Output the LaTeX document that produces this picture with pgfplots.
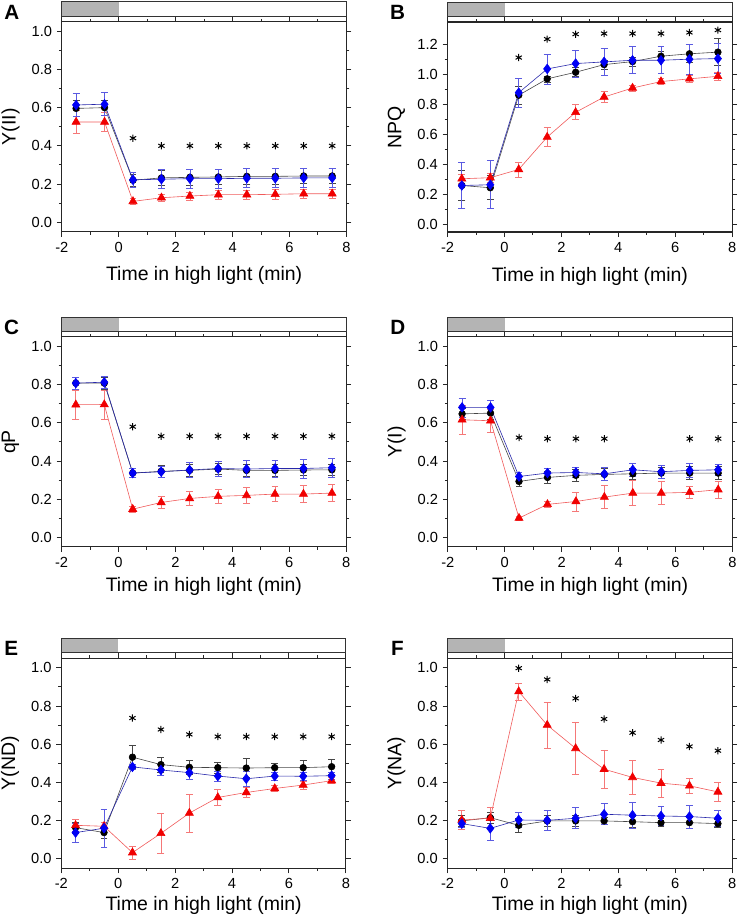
\documentclass[border=0pt]{standalone}
\usepackage{pgfplots}
\usepackage{pgfplotstable}
\pgfplotsset{compat=1.18}
\usepackage{fontspec}
\setmainfont{Liberation Sans}
\definecolor{cblue}{RGB}{0,0,245}
\definecolor{cred}{RGB}{240,0,0}
\definecolor{kline}{RGB}{70,70,70}
\definecolor{bline}{RGB}{40,40,170}
\definecolor{rline}{RGB}{240,90,90}
\definecolor{kerr}{RGB}{70,70,70}
\definecolor{berr}{RGB}{90,90,225}
\definecolor{rerr}{RGB}{245,120,120}
\definecolor{barg}{RGB}{180,180,180}

\pgfplotstableread{
x k ke b be r re
-1.5 0.596 0.04 0.614 0.06 0.525 0.06
-0.5 0.600 0.04 0.618 0.06 0.525 0.05
0.5 0.220 0.03 0.222 0.04 0.109 0.015
1.5 0.232 0.04 0.225 0.05 0.128 0.02
2.5 0.235 0.04 0.228 0.05 0.137 0.02
3.5 0.237 0.04 0.228 0.05 0.144 0.025
4.5 0.240 0.04 0.230 0.05 0.144 0.025
5.5 0.240 0.04 0.230 0.05 0.146 0.025
6.5 0.242 0.04 0.232 0.05 0.149 0.025
7.5 0.242 0.04 0.232 0.05 0.149 0.025
}\tabA
\pgfplotstableread{
x y
0.5 0.44
1.5 0.40
2.5 0.40
3.5 0.40
4.5 0.40
5.5 0.40
6.5 0.40
7.5 0.40
}\starA
\pgfplotstableread{
x k ke b be r re
-1.5 0.260 0.10 0.260 0.155 0.305 0.03
-0.5 0.245 0.08 0.265 0.160 0.312 0.03
0.5 0.862 0.06 0.879 0.095 0.367 0.05
1.5 0.971 0.02 1.037 0.10 0.583 0.065
2.5 1.015 0.03 1.073 0.09 0.748 0.05
3.5 1.066 0.03 1.084 0.09 0.850 0.035
4.5 1.086 0.03 1.095 0.09 0.910 0.02
5.5 1.122 0.03 1.095 0.09 0.953 0.02
6.5 1.138 0.06 1.102 0.10 0.971 0.025
7.5 1.149 0.09 1.106 0.10 0.988 0.025
}\tabB
\pgfplotstableread{
x y
0.5 1.113
1.5 1.236
2.5 1.269
3.5 1.273
4.5 1.273
5.5 1.273
6.5 1.280
7.5 1.296
}\starB
\pgfplotstableread{
x k ke b be r re
-1.5 0.808 0.03 0.808 0.03 0.695 0.075
-0.5 0.808 0.03 0.813 0.03 0.696 0.075
0.5 0.337 0.025 0.337 0.025 0.148 0.015
1.5 0.346 0.03 0.344 0.03 0.183 0.03
2.5 0.351 0.03 0.353 0.04 0.204 0.035
3.5 0.358 0.03 0.361 0.04 0.215 0.035
4.5 0.351 0.03 0.358 0.045 0.220 0.04
5.5 0.351 0.03 0.361 0.045 0.227 0.04
6.5 0.353 0.03 0.361 0.05 0.227 0.045
7.5 0.354 0.03 0.365 0.05 0.232 0.045
}\tabC
\pgfplotstableread{
x y
0.5 0.58
1.5 0.53
2.5 0.53
3.5 0.53
4.5 0.53
5.5 0.53
6.5 0.53
7.5 0.53
}\starC
\pgfplotstableread{
x k ke b be r re
-1.5 0.647 0.03 0.681 0.05 0.616 0.075
-0.5 0.651 0.03 0.681 0.035 0.611 0.06
0.5 0.293 0.025 0.319 0.02 0.101 0.01
1.5 0.314 0.03 0.337 0.025 0.173 0.015
2.5 0.325 0.03 0.340 0.025 0.188 0.05
3.5 0.330 0.03 0.333 0.035 0.211 0.06
4.5 0.333 0.03 0.354 0.035 0.232 0.065
5.5 0.337 0.03 0.344 0.035 0.232 0.06
6.5 0.337 0.035 0.351 0.035 0.236 0.03
7.5 0.337 0.035 0.354 0.03 0.250 0.045
}\tabD
\pgfplotstableread{
x y
0.5 0.523
1.5 0.517
2.5 0.517
3.5 0.517
6.5 0.517
7.5 0.517
}\starD
\pgfplotstableread{
x k ke b be r re
-1.5 0.163 0.03 0.137 0.05 0.175 0.03
-0.5 0.137 0.03 0.160 0.10 0.170 0.02
0.5 0.532 0.06 0.481 0.015 0.032 0.035
1.5 0.493 0.04 0.465 0.03 0.133 0.105
2.5 0.479 0.035 0.451 0.035 0.239 0.10
3.5 0.477 0.03 0.433 0.025 0.321 0.04
4.5 0.475 0.05 0.419 0.04 0.347 0.025
5.5 0.477 0.025 0.433 0.02 0.368 0.015
6.5 0.477 0.04 0.432 0.02 0.386 0.02
7.5 0.482 0.04 0.435 0.02 0.409 0.015
}\tabE
\pgfplotstableread{
x y
0.5 0.737
1.5 0.677
2.5 0.651
3.5 0.640
4.5 0.640
5.5 0.640
6.5 0.640
7.5 0.640
}\starE
\pgfplotstableread{
x k ke b be r re
-1.5 0.198 0.03 0.184 0.02 0.203 0.05
-0.5 0.215 0.03 0.159 0.065 0.212 0.055
0.5 0.175 0.035 0.203 0.04 0.876 0.045
1.5 0.198 0.03 0.201 0.05 0.700 0.12
2.5 0.198 0.03 0.212 0.055 0.578 0.135
3.5 0.198 0.02 0.233 0.055 0.469 0.10
4.5 0.194 0.03 0.228 0.07 0.426 0.09
5.5 0.189 0.02 0.224 0.05 0.396 0.072
6.5 0.189 0.03 0.221 0.06 0.382 0.04
7.5 0.184 0.02 0.212 0.04 0.350 0.05
}\tabF
\pgfplotstableread{
x y
0.5 0.998
1.5 0.939
2.5 0.840
3.5 0.732
4.5 0.660
5.5 0.622
6.5 0.588
7.5 0.566
}\starF

\pgfplotsset{
  panel/.style={
    scale only axis, width=213.4pt, height=157.5pt,
    anchor=north west, clip=false,
    xmin=-2, xmax=8, ymin=-0.05, ymax=1.05,
    xtick={-2,0,2,4,6,8}, ytick={0,0.2,0.4,0.6,0.8,1.0},
    minor x tick num=1, minor y tick num=1,
    tick align=outside, tick pos=both,
    xticklabel pos=left, yticklabel pos=left,
    major tick length=3.8pt, minor tick length=2.2pt,
    axis line style={line width=0.8pt, black!85},
    every tick/.style={line width=0.7pt, black!85},
    /pgf/number format/assume math mode=true,
    tick label style={font=\fontsize{11}{12}\selectfont},
    xticklabel style={yshift=-0.5pt},
    yticklabel style={/pgf/number format/.cd, fixed, fixed zerofill, precision=1},
    xlabel={Time in high light (min)},
    xlabel style={at={(axis description cs:0.5,-0.21)}, anchor=center, font=\fontsize{14.6}{16}\selectfont},
    ylabel style={at={(axis description cs:-0.18,0.5)}, anchor=center, font=\fontsize{14.6}{16}\selectfont},
  },
  kplot/.style={color=kline, line width=0.45pt, mark=*, mark size=2.5pt, mark options={fill=black, draw=black, solid}},
  bplot/.style={color=bline, line width=0.45pt, mark=diamond*, mark size=3.6pt, mark options={fill=cblue, draw=cblue, solid}},
  rplot/.style={color=rline, line width=0.45pt, mark=triangle*, mark size=3.5pt, mark options={fill=cred, draw=cred, solid}},
  starplot/.style={only marks, mark=asterisk, mark size=2.7pt, black, mark options={line width=0.75pt}},
}

\newcommand{\threeseries}[1]{%
  \addplot[kplot, error bars/.cd, y dir=both, y explicit,
    error bar style={kerr, line width=0.5pt},
    error mark options={rotate=90, mark size=2.6pt, kerr, line width=0.5pt}]
    table[x=x, y=k, y error=ke] {#1};
  \addplot[rplot, error bars/.cd, y dir=both, y explicit,
    error bar style={rerr, line width=0.5pt},
    error mark options={rotate=90, mark size=2.6pt, rerr, line width=0.5pt}]
    table[x=x, y=r, y error=re] {#1};
  \addplot[bplot, error bars/.cd, y dir=both, y explicit,
    error bar style={berr, line width=0.5pt},
    error mark options={rotate=90, mark size=2.6pt, berr, line width=0.5pt}]
    table[x=x, y=b, y error=be] {#1};
}
\newcommand{\lightbar}[1]{%
  \fill[barg] (rel axis cs:0,1.0262) rectangle (rel axis cs:0.2,1.0943);
  \draw[line width=0.8pt, black!80] (rel axis cs:0,1.0262) rectangle (rel axis cs:1,1.0943);
  \node[font=\bfseries\fontsize{15.5}{17}\selectfont] at (rel axis cs:-0.176,1.045) {#1};
}

\begin{document}
\begin{tikzpicture}
\path[use as bounding box] (0pt,0pt) rectangle (555pt,-693pt);

\begin{axis}[panel, at={(46.4pt,-16.3pt)}, ylabel={Y(II)}]
  \threeseries{\tabA}
  \addplot[starplot] table[x=x,y=y] {\starA};
  \lightbar{A}
\end{axis}

\begin{axis}[panel, at={(335.7pt,-16.5pt)}, ymax=1.35, ytick={0,0.2,0.4,0.6,0.8,1.0,1.2}, ylabel={NPQ}]
  \threeseries{\tabB}
  \addplot[starplot] table[x=x,y=y] {\starB};
  \lightbar{B}
\end{axis}

\begin{axis}[panel, at={(46.2pt,-252.7pt)}, ylabel={qP}, xlabel style={at={(axis description cs:0.5,-0.19)}}]
  \threeseries{\tabC}
  \addplot[starplot] table[x=x,y=y] {\starC};
  \lightbar{C}
\end{axis}

\begin{axis}[panel, at={(335.9pt,-252.7pt)}, ylabel={Y(I)}, xlabel style={at={(axis description cs:0.5,-0.19)}}]
  \threeseries{\tabD}
  \addplot[starplot] table[x=x,y=y] {\starD};
  \lightbar{D}
\end{axis}

\begin{axis}[panel, at={(46.0pt,-493.7pt)}, ylabel={Y(ND)}, xlabel style={at={(axis description cs:0.5,-0.176)}}]
  \threeseries{\tabE}
  \addplot[starplot] table[x=x,y=y] {\starE};
  \lightbar{E}
\end{axis}

\begin{axis}[panel, at={(335.7pt,-493.7pt)}, ylabel={Y(NA)}, xlabel style={at={(axis description cs:0.5,-0.176)}}]
  \threeseries{\tabF}
  \addplot[starplot] table[x=x,y=y] {\starF};
  \lightbar{F}
\end{axis}
\end{tikzpicture}
\end{document}
